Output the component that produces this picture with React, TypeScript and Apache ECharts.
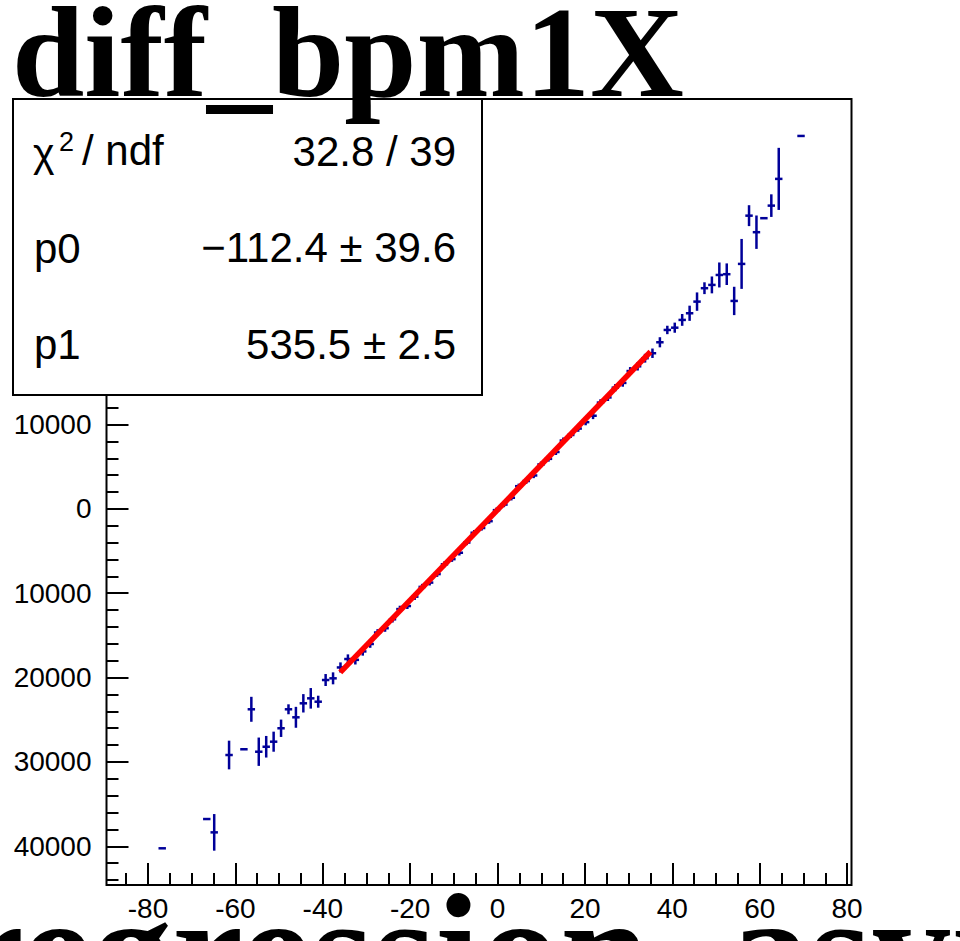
import React, { useEffect, useRef } from "react";
import * as echarts from "echarts";

// ---- data ----
const TITLE = "diff_bpm1X";
const NEXT_PAD_TITLE = "regression_asym";

const X_MIN = -89.5;
const X_MAX = 81;
const Y_MIN = -44590;
const Y_MAX = 48590;
const BIN_WIDTH = 1.7;

const BIN_X = [
  -76.75, -66.55, -64.85, -61.45, -58.05, -56.35, -54.65, -52.95, -51.25, -49.55, -47.85,
  -46.15, -44.45, -42.75, -41.05, -39.35, -37.65, -35.95, -34.25, -32.55, -30.85,
  -29.15, -27.45, -25.75, -24.05, -22.35, -20.65, -18.95, -17.25, -15.55, -13.85, -12.15,
  -10.45, -8.75, -7.05, -5.35, -3.65, -1.95, -0.25, 1.45, 3.15, 4.85, 6.55, 8.25, 9.95,
  11.65, 13.35, 15.05, 16.75, 18.45, 20.15, 21.85, 23.55, 25.25, 26.95, 28.65, 30.35,
  32.05, 33.75,
  35.45, 37.15, 38.85, 40.55, 42.25, 43.95, 45.65, 47.35, 49.05, 50.75, 52.45, 54.15,
  55.85, 57.55, 59.25, 60.95, 62.65, 64.35, 69.45,
];

const BIN_Y = [
  -40240, -36770, -38350, -29180, -28500, -23760, -28790, -28200, -27600, -26010, -23760,
  -24710, -23050, -22460, -22860, -20290, -20090, -18800, -17800, -17900, -16900,
  -16020, -14660, -14150, -13090, -11880, -11520, -10410, -9250, -8740, -7730, -6570,
  -5960, -5200, -3990, -2830, -2270, -1460, -150, 510, 1320, 2690, 3300, 3960, 5270,
  5930, 6740, 8100, 8760, 9520, 10280, 11040, 12600, 13210, 14370, 14930, 16340,
  16900, 17860,
  18450, 19750, 21210, 21480, 22400, 23190, 24570, 26160, 26550, 27730, 27820, 24650,
  29040, 34760, 32800, 34460, 35950, 39120, 44210,
];

const BIN_ERR = [
  0, 0, 2170, 1700, 0, 1480, 1680, 1280, 1190, 1030, 590,
  1240, 1090, 1220, 710, 710, 710, 600, 550, 550, 500,
  450, 400, 420, 380, 400, 350, 380, 360, 340, 330, 350,
  320, 330, 310, 320, 300, 310, 300, 310, 320, 300, 330, 320, 340,
  330, 350, 360, 350, 380, 370, 400, 390, 420, 430, 450, 470,
  500, 520,
  560, 600, 500, 600, 700, 900, 1090, 700, 1000, 1480, 1280, 1680,
  2960, 1240, 1980, 0, 1340, 3680, 0,
];

const FIT_P0 = -112.4;
const FIT_P1 = 535.5;
const FIT_RANGE = [-36, 35];

const STAT_LABELS = ["p0", "p1"];
const STAT_VALUES = ["32.8 / 39", "\u2212112.4 \u00b1 39.6", "535.5 \u00b1 2.5"];

const X_MINOR = { min: -85, max: 80, step: 5 };
const Y_MINOR = { min: -44000, max: 48000, step: 2000 };

// ---- layout ----
const W = 960;
const H = 941;
const GL = 106.5;
const GT = 99;
const GW = 745;
const GH = 786;
const BLUE = "#000099";
const SANS = "Liberation Sans";
const SERIF = "Liberation Serif";

const px = (x: number) => GL + ((x - X_MIN) / (X_MAX - X_MIN)) * GW;
const py = (y: number) => GT + ((Y_MAX - y) / (Y_MAX - Y_MIN)) * GH;

export default function App() {
  const ref = useRef<HTMLDivElement>(null);

  useEffect(() => {
    if (!ref.current) return;
    const chart = echarts.init(ref.current, undefined, { renderer: "svg" });

    const tickStyle = { color: "#000", width: 2 };
    const hiddenAxis = (gridIndex: number) => ({
      type: "value",
      gridIndex,
      show: false,
      min: 0,
      max: 1,
    });

    const xMinorLeft = px(X_MINOR.min);
    const xMinorWidth = px(X_MINOR.max) - px(X_MINOR.min);
    const yMinorTop = py(Y_MINOR.max);
    const yMinorHeight = py(Y_MINOR.min) - py(Y_MINOR.max);

    const option: any = {
      animation: false,
      backgroundColor: "#ffffff",
      grid: [
        {
          left: GL,
          top: GT,
          width: GW,
          height: GH,
          show: true,
          borderColor: "#000",
          borderWidth: 2,
          backgroundColor: "transparent",
          containLabel: false,
          outerBoundsMode: "none",
        },
        {
          left: xMinorLeft,
          top: GT,
          width: xMinorWidth,
          height: GH,
          show: false,
          containLabel: false,
          outerBoundsMode: "none",
        },
        {
          left: GL,
          top: yMinorTop,
          width: GW,
          height: yMinorHeight,
          show: false,
          containLabel: false,
          outerBoundsMode: "none",
        },
      ],
      xAxis: [
        {
          type: "value",
          gridIndex: 0,
          position: "bottom",
          min: X_MIN,
          max: X_MAX,
          splitNumber: 8,
          axisLine: { show: false, onZero: false },
          axisTick: { show: true, inside: true, length: 22, lineStyle: tickStyle },
          axisLabel: {
            show: true,
            showMinLabel: false,
            showMaxLabel: false,
            color: "#000",
            fontFamily: SANS,
            fontSize: 28,
            margin: 9,
          },
          splitLine: { show: false },
        },
        {
          type: "value",
          gridIndex: 1,
          position: "bottom",
          min: X_MINOR.min,
          max: X_MINOR.max,
          interval: X_MINOR.step,
          axisLine: { show: false, onZero: false },
          axisTick: { show: true, inside: true, length: 12, lineStyle: tickStyle },
          axisLabel: { show: false },
          splitLine: { show: false },
        },
        hiddenAxis(2),
      ],
      yAxis: [
        {
          type: "value",
          gridIndex: 0,
          position: "left",
          min: Y_MIN,
          max: Y_MAX,
          splitNumber: 9,
          axisLine: { show: false, onZero: false },
          axisTick: { show: true, inside: true, length: 22, lineStyle: tickStyle },
          axisLabel: {
            show: true,
            showMinLabel: false,
            showMaxLabel: false,
            color: "#000",
            fontFamily: SANS,
            fontSize: 28,
            margin: 15,
            formatter: (v: number) => String(Math.abs(v)),
          },
          splitLine: { show: false },
        },
        hiddenAxis(1),
        {
          type: "value",
          gridIndex: 2,
          position: "left",
          min: Y_MINOR.min,
          max: Y_MINOR.max,
          interval: Y_MINOR.step,
          axisLine: { show: false, onZero: false },
          axisTick: { show: true, inside: true, length: 12, lineStyle: tickStyle },
          axisLabel: { show: false },
          splitLine: { show: false },
        },
      ],
      series: [
        {
          type: "custom",
          xAxisIndex: 0,
          yAxisIndex: 0,
          z: 3,
          data: BIN_X.map((x, i) => [x, BIN_Y[i], BIN_ERR[i]]),
          encode: { x: 0, y: 1 },
          renderItem: (_params: any, api: any) => {
            const x = api.value(0) as number;
            const y = api.value(1) as number;
            const e = api.value(2) as number;
            const l = api.coord([x - BIN_WIDTH / 2, y]);
            const r = api.coord([x + BIN_WIDTH / 2, y]);
            const children: any[] = [
              {
                type: "line",
                shape: { x1: l[0], y1: l[1], x2: r[0], y2: r[1] },
                style: { stroke: BLUE, lineWidth: 2.5 },
              },
            ];
            if (e > 0) {
              const t = api.coord([x, y + e]);
              const b = api.coord([x, y - e]);
              children.push({
                type: "line",
                shape: { x1: t[0], y1: t[1], x2: b[0], y2: b[1] },
                style: { stroke: BLUE, lineWidth: 2.5 },
              });
            }
            return { type: "group", children };
          },
        },
        {
          type: "line",
          xAxisIndex: 0,
          yAxisIndex: 0,
          z: 5,
          showSymbol: false,
          symbol: "none",
          data: FIT_RANGE.map((x) => [x, FIT_P0 + FIT_P1 * x]),
          lineStyle: { color: "#ff0000", width: 5.5 },
        },
      ],
      graphic: [
        {
          type: "rect",
          z: 50,
          shape: { x: 13, y: 99, width: 469, height: 296 },
          style: { fill: "#ffffff", stroke: "#000", lineWidth: 2 },
        },
        {
          type: "text",
          z: 51,
          x: 33,
          y: 153,
          style: { text: "\u03c7", fontFamily: SANS, fontSize: 41, fill: "#000", textAlign: "left", textVerticalAlign: "middle" },
        },
        {
          type: "text",
          z: 51,
          x: 59,
          y: 142,
          style: { text: "2", fontFamily: SANS, fontSize: 27, fill: "#000", textAlign: "left", textVerticalAlign: "middle" },
        },
        {
          type: "text",
          z: 51,
          x: 82,
          y: 150,
          style: { text: "/ ndf", fontFamily: SANS, fontSize: 42, fill: "#000", textAlign: "left", textVerticalAlign: "middle" },
        },
        ...STAT_LABELS.map((t, i) => ({
          type: "text",
          z: 51,
          x: 34,
          y: 248 + i * 96,
          style: { text: t, fontFamily: SANS, fontSize: 42, fill: "#000", textAlign: "left", textVerticalAlign: "middle" },
        })),
        ...STAT_VALUES.map((t, i) => ({
          type: "text",
          z: 51,
          x: 456,
          y: 151 + i * 96.5,
          style: { text: t, fontFamily: SANS, fontSize: 42, fill: "#000", textAlign: "right", textVerticalAlign: "middle" },
        })),
        {
          type: "text",
          z: 60,
          x: 12,
          y: 52,
          style: {
            text: TITLE,
            fontFamily: SERIF,
            fontWeight: "bold",
            fontSize: 130,
            fill: "#000",
            textAlign: "left",
            textVerticalAlign: "middle",
          },
        },
        {
          type: "text",
          z: 60,
          x: -47,
          y: 951,
          style: {
            text: NEXT_PAD_TITLE,
            fontFamily: SERIF,
            fontWeight: "bold",
            fontSize: 160,
            fill: "#000",
            textAlign: "left",
            textVerticalAlign: "middle",
          },
        },
      ],
    };

    chart.setOption(option);
    return () => chart.dispose();
  }, []);

  return (
    <div
      ref={ref}
      style={{ position: "fixed", left: 0, top: 0, width: W, height: H, background: "#fff" }}
    />
  );
}
